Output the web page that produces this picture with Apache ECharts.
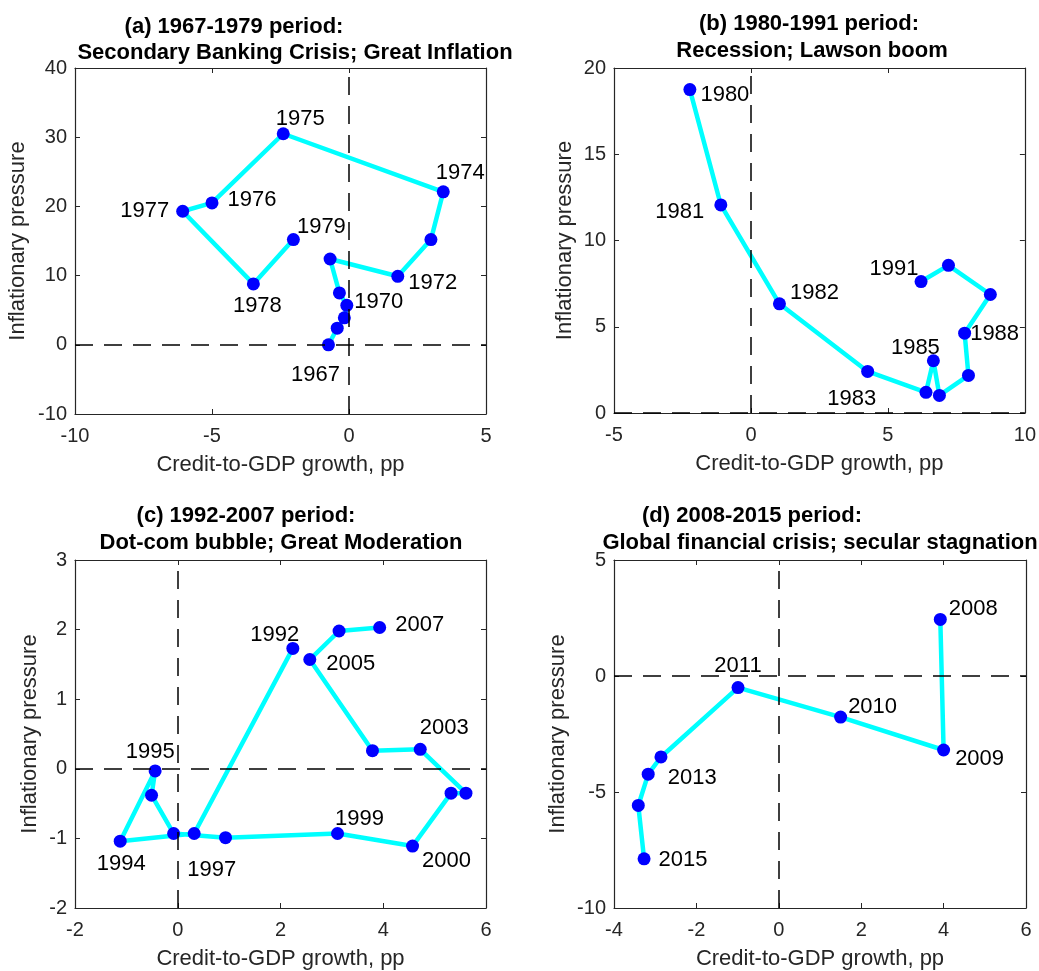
<!DOCTYPE html>
<html>
<head>
<meta charset="utf-8">
<script src="https://cdn.jsdelivr.net/npm/echarts@6/dist/echarts.min.js"></script>
<style>
  html, body { margin: 0; padding: 0; background: #fff; }
  #chart { width: 1039px; height: 971px; }
</style>
</head>
<body>
<div id="chart"></div>
<script>
  // panel (a) 1967-1979
  const aX = [-0.75, -0.43, -0.17, -0.08, -0.35, -0.69, 1.78, 2.99, 3.44, -2.40, -5.00, -6.07, -3.49, -2.03];
  const aY = [0.0, 2.4, 3.9, 5.7, 7.5, 12.4, 9.9, 15.2, 22.1, 30.5, 20.5, 19.3, 8.8, 15.2];
  const aLabels = ['1967', '', '', '1970', '', '', '1972', '', '1974', '1975', '1976', '1977', '1978', '1979'];

  // panel (b) 1980-1991
  const bX = [-2.23, -1.10, 1.04, 4.26, 6.39, 6.66, 6.88, 7.94, 7.80, 8.74, 7.21, 6.21];
  const bY = [18.75, 12.06, 6.33, 2.41, 1.20, 3.03, 1.02, 2.18, 4.63, 6.87, 8.56, 7.62];
  const bLabels = ['1980', '1981', '1982', '1983', '', '1985', '', '', '1988', '', '', '1991'];

  // panel (c) 1992-2007
  const cX = [2.24, 0.32, -1.12, -0.44, -0.51, -0.08, 0.93, 3.11, 4.57, 5.32, 5.61, 4.72, 3.79, 2.57, 3.14, 3.93];
  const cY = [1.73, -0.93, -1.04, -0.03, -0.38, -0.93, -0.99, -0.93, -1.11, -0.35, -0.35, 0.28, 0.26, 1.57, 1.98, 2.03];
  const cLabels = ['1992', '', '1994', '1995', '', '1997', '', '1999', '2000', '', '', '2003', '', '2005', '', '2007'];

  // panel (d) 2008-2015
  const dX = [3.92, 4.00, 1.50, -0.99, -2.86, -3.17, -3.41, -3.27];
  const dY = [2.44, -3.19, -1.77, -0.50, -3.49, -4.23, -5.58, -7.88];
  const dLabels = ['2008', '2009', '2010', '2011', '', '2013', '', '2015'];

  // where each year label sits relative to its marker (px)
  const labelOffsets = {
    '1967': [-13, 30], '1970': [32, -3], '1972': [35, 7], '1974': [17, -19], '1975': [17, -15],
    '1976': [40, -3], '1977': [-38, 0], '1978': [4, 22], '1979': [28, -13],
    '1980': [35, 5], '1981': [-41, 7], '1982': [35, -11], '1983': [-16, 28], '1985': [-18, -13],
    '1988': [30, 1], '1991': [-27, -13],
    '1992': [-18, -13], '1994': [1, 23], '1995': [-5, -19], '1997': [38, 36], '1999': [22, -15],
    '2000': [34, 15], '2003': [24, -21], '2005': [41, 4], '2007': [40, -3],
    '2008': [33, -10], '2009': [36, 9], '2010': [32, -10], '2011': [0, -22], '2013': [44, 4], '2015': [39, 1]
  };

  const panels = [
    { x: aX, y: aY, labels: aLabels, xmin: -10, xmax: 5, xint: 5, ymin: -10, ymax: 40, yint: 10,
      grid: { left: 75, top: 68, width: 411, height: 346 }, yGap: 46,
      t1: '(a) 1967-1979 period:', t2: 'Secondary Banking Crisis; Great Inflation', t1x: 234, t2x: 295, t1y: 16, t2y: 42 },
    { x: bX, y: bY, labels: bLabels, xmin: -5, xmax: 10, xint: 5, ymin: 0, ymax: 20, yint: 5,
      grid: { left: 614, top: 68, width: 412, height: 345 }, yGap: 38,
      t1: '(b) 1980-1991 period:', t2: 'Recession; Lawson boom', t1x: 809, t2x: 812, t1y: 13, t2y: 40 },
    { x: cX, y: cY, labels: cLabels, xmin: -2, xmax: 6, xint: 2, ymin: -2, ymax: 3, yint: 1,
      grid: { left: 75, top: 560, width: 411, height: 348 }, yGap: 34,
      t1: '(c) 1992-2007 period:', t2: 'Dot-com bubble; Great Moderation', t1x: 246, t2x: 281, t1y: 505, t2y: 532 },
    { x: dX, y: dY, labels: dLabels, xmin: -4, xmax: 6, xint: 2, ymin: -10, ymax: 5, yint: 5,
      grid: { left: 614, top: 560, width: 412, height: 348 }, yGap: 45,
      t1: '(d) 2008-2015 period:', t2: 'Global financial crisis; secular stagnation', t1x: 752, t2x: 820, t1y: 505, t2y: 532 }
  ];

  const axisColor = '#262626';
  const grids = [], xAxes = [], yAxes = [], series = [], titles = [];

  panels.forEach(function (p, i) {
    grids.push(p.grid);
    titles.push({ text: p.t1, left: p.t1x, top: p.t1y, textAlign: 'center', padding: 0,
      textStyle: { fontFamily: 'Liberation Sans', fontSize: 22, fontWeight: 'bold', color: '#000' } });
    titles.push({ text: p.t2, left: p.t2x, top: p.t2y, textAlign: 'center', padding: 0,
      textStyle: { fontFamily: 'Liberation Sans', fontSize: 22, fontWeight: 'bold', color: '#000' } });

    const tick = { show: true, inside: true, length: 5, lineStyle: { color: axisColor } };
    const line = { show: true, onZero: false, lineStyle: { color: axisColor, width: 1.2 } };
    xAxes.push({
      gridIndex: i, type: 'value', position: 'bottom', min: p.xmin, max: p.xmax, interval: p.xint,
      axisLine: line, axisTick: tick, splitLine: { show: false },
      axisLabel: { color: axisColor, fontSize: 20, fontFamily: 'Liberation Sans', margin: 12 },
      name: 'Credit-to-GDP growth, pp', nameLocation: 'middle', nameGap: 40,
      nameTextStyle: { color: axisColor, fontSize: 22, fontFamily: 'Liberation Sans' }
    });
    xAxes.push({
      gridIndex: i, type: 'value', position: 'top', min: p.xmin, max: p.xmax, interval: p.xint,
      axisLine: line, axisTick: tick, splitLine: { show: false }, axisLabel: { show: false }
    });
    yAxes.push({
      gridIndex: i, type: 'value', position: 'left', min: p.ymin, max: p.ymax, interval: p.yint,
      axisLine: line, axisTick: tick, splitLine: { show: false },
      axisLabel: { color: axisColor, fontSize: 20, fontFamily: 'Liberation Sans', margin: 8 },
      name: 'Inflationary pressure', nameLocation: 'middle', nameGap: p.yGap, nameRotate: 90,
      nameTextStyle: { color: axisColor, fontSize: 22, fontFamily: 'Liberation Sans' }
    });
    yAxes.push({
      gridIndex: i, type: 'value', position: 'right', min: p.ymin, max: p.ymax, interval: p.yint,
      axisLine: line, axisTick: tick, splitLine: { show: false }, axisLabel: { show: false }
    });

    const data = p.x.map(function (xv, k) {
      const lbl = p.labels[k];
      const item = { value: [xv, p.y[k]] };
      if (lbl) {
        item.label = { show: true, formatter: lbl, position: 'inside', offset: labelOffsets[lbl],
          color: '#000', fontSize: 22, fontFamily: 'Liberation Sans' };
      }
      return item;
    });

    series.push({
      type: 'line', xAxisIndex: 2 * i, yAxisIndex: 2 * i, data: data, z: 3,
      symbol: 'circle', symbolSize: 13, showAllSymbol: true,
      itemStyle: { color: '#0000ff' },
      lineStyle: { color: '#00ffff', width: 4.5 },
      label: { show: false }
    });

    // dashed zero lines on top
    series.push({
      type: 'line', xAxisIndex: 2 * i, yAxisIndex: 2 * i, data: [], z: 10, silent: true,
      markLine: {
        silent: true, symbol: 'none', animation: false,
        label: { show: false },
        lineStyle: { color: '#000', width: 1.5, type: [18, 11] },
        data: [{ xAxis: 0 }, { yAxis: 0 }]
      }
    });
  });

  const chart = echarts.init(document.getElementById('chart'));
  chart.setOption({
    animation: false,
    backgroundColor: '#fff',
    title: titles,
    grid: grids,
    xAxis: xAxes,
    yAxis: yAxes,
    series: series
  });
</script>
</body>
</html>
